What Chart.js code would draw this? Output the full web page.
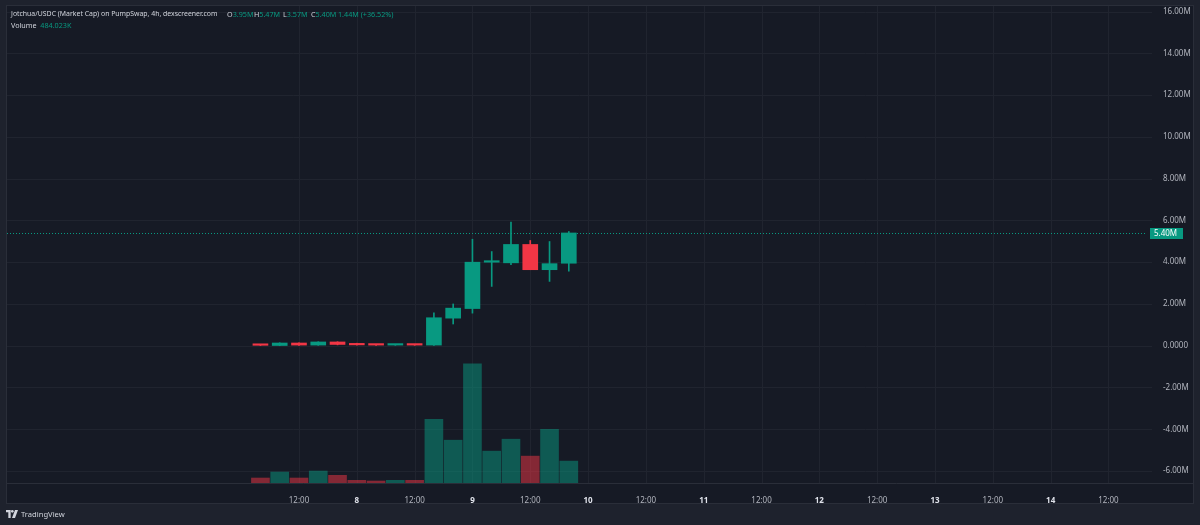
<!DOCTYPE html>
<html>
<head>
<meta charset="utf-8">
<script src="https://cdn.jsdelivr.net/npm/chart.js@4.4.1/dist/chart.umd.min.js"></script>
<style>
  html, body { margin: 0; padding: 0; background: #1e222d; }
  #wrap { position: relative; width: 1200px; height: 525px; overflow: hidden; }
  #legend { position: absolute; left: 11px; top: 9px; width: 500px; font: 7.2px "Noto Sans", sans-serif; color: #d1d4dc; line-height: 10.5px; }
  #legend .row { position: relative; height: 10.5px; white-space: nowrap; }
  #legend .g { position: absolute; top: 0; }
  #legend .t { font-size: 6.9px; }
  #legend .v { color: #089981; }
  #brand { position: absolute; left: 6px; top: 509px; font: 7.6px "Noto Sans", sans-serif; color: #d1d4dc; display: flex; align-items: center; gap: 3px; }
</style>
</head>
<body>
<div id="wrap">
  <canvas id="myChart" width="1200" height="525"></canvas>
  <div id="legend">
    <div class="row">
      <span class="g t" style="left:0">Jotchua/USDC (Market Cap) on PumpSwap, 4h, dexscreener.com</span>
      <span class="g" style="left:216px">O<span class="v">3.95M</span></span>
      <span class="g" style="left:243px">H<span class="v">5.47M</span></span>
      <span class="g" style="left:272px">L<span class="v">3.57M</span></span>
      <span class="g" style="left:300px">C<span class="v">5.40M</span></span>
      <span class="g v" style="left:327px">1.44M (+36.52%)</span>
    </div>
    <div class="row">Volume&nbsp;&nbsp;<span class="v">484.023K</span></div>
  </div>
  <div id="brand">
    <svg width="12" height="8" viewBox="0 0 36 24"><path d="M0 0h14v24H7V7H0z" fill="#d1d4dc"/><circle cx="19" cy="4" r="4" fill="#d1d4dc"/><path d="M27 0h9l-9 24h-9z" fill="#d1d4dc"/></svg>
    <span>TradingView</span>
  </div>
</div>
<script>
// setup - hours counted from day 7 00:00, one candle every 4h
const hours = [4, 8, 12, 16, 20, 24, 28, 32, 36, 40, 44, 48, 52, 56, 60, 64, 68];
// market cap in millions
const opens  = [0.05, 0.01, 0.13, 0.03, 0.18, 0.06, 0.04, 0.03, 0.04, 0.03, 1.32, 1.78, 4.00, 3.97, 4.85, 3.64, 3.95];
const highs  = [0.05, 0.14, 0.14, 0.19, 0.19, 0.12, 0.05, 0.05, 0.05, 1.58, 2.00, 5.10, 4.51, 5.92, 5.04, 4.99, 5.47];
const lows   = [0.01, 0.00, 0.02, 0.02, 0.04, 0.03, 0.02, 0.02, 0.02, 0.02, 1.04, 1.56, 2.84, 3.88, 3.64, 3.08, 3.57];
const closes = [0.02, 0.13, 0.03, 0.18, 0.06, 0.04, 0.03, 0.04, 0.03, 1.34, 1.80, 4.00, 4.02, 4.85, 3.64, 3.93, 5.40];
// volume in thousands
const volumes = [110, 242, 110, 264, 170, 59, 44, 59, 59, 1408, 946, 2631, 704, 968, 594, 1188, 484];

const xTickHours = [12, 24, 36, 48, 60, 72, 84, 96, 108, 120, 132, 144, 156, 168, 180];
const xTickLabels = ['12:00', '8', '12:00', '9', '12:00', '10', '12:00', '11', '12:00', '12', '12:00', '13', '12:00', '14', '12:00'];
const yTickValues = [-6, -4, -2, 0, 2, 4, 6, 8, 10, 12, 14, 16];
const yTickLabels = ['-6.00M', '-4.00M', '-2.00M', '0.0000', '2.00M', '4.00M', '6.00M', '8.00M', '10.00M', '12.00M', '14.00M', '16.00M'];

const UP = '#089981', DOWN = '#f23645';
const UP_VOL = 'rgba(8,153,129,0.5)', DOWN_VOL = 'rgba(242,54,69,0.5)';
const isUp = closes.map((c, i) => c >= opens[i]);

const FONT = '"Noto Sans", sans-serif';
const GRID = '#20242f';
const NONE = 'rgba(0,0,0,0)';

const bgPlugin = {
  id: 'bg',
  beforeDraw(chart) {
    const c = chart.ctx, a = chart.chartArea;
    const yAx = chart.scales.y, xAx = chart.scales.x;
    c.save();
    c.fillStyle = '#1e222d';
    c.fillRect(0, 0, chart.width, chart.height);
    c.fillStyle = '#161a25';
    c.fillRect(a.left, a.top, yAx.right - a.left, xAx.bottom - a.top);
    c.strokeStyle = '#2a2e39';
    c.lineWidth = 1;
    c.strokeRect(a.left - 0.5, a.top - 0.5, yAx.right - a.left + 1, xAx.bottom - a.top + 1);
    c.beginPath();
    c.moveTo(a.left, a.bottom + 0.5);
    c.lineTo(yAx.right, a.bottom + 0.5);
    c.stroke();
    // grid lines at the tick positions
    c.strokeStyle = GRID;
    c.beginPath();
    xTickHours.forEach(h => {
      const x = Math.round(xAx.getPixelForValue(h)) + 0.5;
      c.moveTo(x, a.top);
      c.lineTo(x, a.bottom);
    });
    yTickValues.forEach(v => {
      const y = Math.round(yAx.getPixelForValue(v)) + 0.5;
      c.moveTo(a.left, y);
      c.lineTo(a.right + 5, y);
    });
    c.stroke();
    c.restore();
  }
};

const lastPricePlugin = {
  id: 'lastPrice',
  afterDatasetsDraw(chart) {
    const c = chart.ctx, a = chart.chartArea;
    const last = closes[closes.length - 1];
    const y = Math.round(chart.scales.y.getPixelForValue(last)) + 0.5;
    c.save();
    c.strokeStyle = UP;
    c.lineWidth = 1;
    c.setLineDash([1, 2]);
    c.beginPath();
    c.moveTo(a.left, y);
    c.lineTo(a.right, y);
    c.stroke();
    c.setLineDash([]);
    const bx = a.right + 3;
    c.fillStyle = UP;
    c.fillRect(bx, y - 5.5, 33, 11);
    c.fillStyle = '#ffffff';
    c.font = '8px ' + FONT;
    c.textBaseline = 'middle';
    c.fillText(last.toFixed(2) + 'M', bx + 4, y + 0.5);
    c.restore();
  }
};

const data = {
  datasets: [
    {
      label: 'volume',
      yAxisID: 'yv',
      data: hours.map((h, i) => ({ x: h, y: volumes[i] })),
      backgroundColor: isUp.map(u => u ? UP_VOL : DOWN_VOL),
      barThickness: 18,
      grouped: false,
      order: 3
    },
    {
      label: 'wick',
      yAxisID: 'y',
      data: hours.map((h, i) => ({ x: h, y: [lows[i], highs[i]] })),
      backgroundColor: isUp.map(u => u ? UP : DOWN),
      barThickness: 1,
      grouped: false,
      order: 2
    },
    {
      label: 'body',
      yAxisID: 'y',
      data: hours.map((h, i) => ({ x: h, y: [opens[i], closes[i]] })),
      backgroundColor: isUp.map(u => u ? UP : DOWN),
      barThickness: 15,
      minBarLength: 1.5,
      grouped: false,
      order: 1
    }
  ]
};

const config = {
  type: 'bar',
  data,
  options: {
    responsive: false,
    animation: false,
    layout: { padding: { left: 7, top: 6, right: 7, bottom: 22 } },
    plugins: { legend: { display: false }, tooltip: { enabled: false } },
    scales: {
      x: {
        type: 'linear',
        min: -48.6,
        max: 188,
        offset: false,
        afterBuildTicks: s => { s.ticks = xTickHours.map(v => ({ value: v })); },
        afterFit: s => { s.height = 20; s.paddingLeft = 0; s.paddingRight = 0; },
        grid: { display: false },
        border: { display: false, color: NONE, width: 0 },
        ticks: {
          padding: 5,
          maxRotation: 0,
          autoSkip: false,
          color: ctx => xTickLabels[ctx.index] === '12:00' ? '#b2b5be' : '#e0e3eb',
          font: ctx => ({ family: FONT, size: 8, weight: xTickLabels[ctx.index] === '12:00' ? 'normal' : 'bold' }),
          callback: (v, i) => xTickLabels[i]
        }
      },
      y: {
        position: 'right',
        min: -6.575,
        max: 16.27,
        afterBuildTicks: s => { s.ticks = yTickValues.map(v => ({ value: v })); },
        afterFit: s => { s.width = 46; s.paddingTop = 0; s.paddingBottom = 0; },
        grid: { display: false },
        border: { display: false, color: NONE, width: 0 },
        ticks: {
          padding: 8,
          color: '#b2b5be',
          font: { family: FONT, size: 8 },
          callback: (v, i) => yTickLabels[i]
        }
      },
      yv: {
        display: false,
        min: 0,
        max: 10540
      }
    }
  },
  plugins: [bgPlugin, lastPricePlugin]
};

const ctx = document.getElementById('myChart');
const myChart = new Chart(ctx, config);
</script>
</body>
</html>
